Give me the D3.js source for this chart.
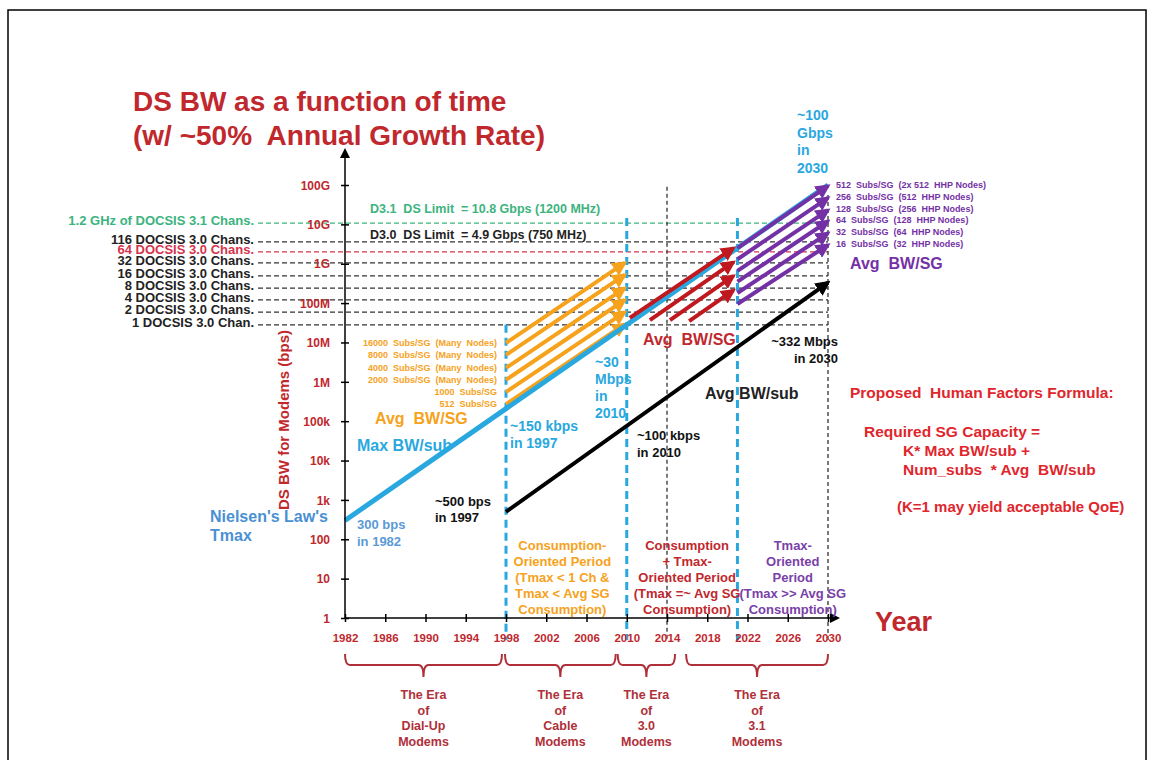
<!DOCTYPE html>
<html>
<head>
<meta charset="utf-8">
<script src="https://cdn.jsdelivr.net/npm/d3@7"></script>
<style>
  body { margin: 0; background: #fff; }
  svg { display: block; }
  text { font-family: "Liberation Sans", Arial, sans-serif; font-weight: bold; }
</style>
</head>
<body>
<div id="chart"></div>
<script>
const width = 1154;
const height = 760;

// axis ticks
const yTickValues = [1, 10, 100, 1e3, 1e4, 1e5, 1e6, 1e7, 1e8, 1e9, 1e10, 1e11];
const yTickLabels = ["1", "10", "100", "1k", "10k", "100k", "1M", "10M", "100M", "1G", "10G", "100G"];
const xTickYears = [1982, 1986, 1990, 1994, 1998, 2002, 2006, 2010, 2014, 2018, 2022, 2026, 2030];

// DOCSIS channel capacity reference lines (bps)
const chanLabels = [
  "1.2 GHz of DOCSIS 3.1 Chans.",
  "116 DOCSIS 3.0 Chans.",
  "64 DOCSIS 3.0 Chans.",
  "32 DOCSIS 3.0 Chans.",
  "16 DOCSIS 3.0 Chans.",
  "8 DOCSIS 3.0 Chans.",
  "4 DOCSIS 3.0 Chans.",
  "2 DOCSIS 3.0 Chans.",
  "1 DOCSIS 3.0 Chan.",
];
const chanValues = [1.08e10, 3.6e9, 2.0e9, 1.05e9, 4.9e8, 2.4e8, 1.2e8, 5.9e7, 2.8e7];

// Max BW/sub (Nielsen's law) and Avg BW/sub
const maxBwYears = [1982, 2030];
const maxBwValues = [300, 1e11];
const avgSubYears = [1998, 2030];
const avgSubValues = [500, 3.32e8];

// Avg BW/SG, cable modem era (orange)
const orangeLabels = [
  "16000  Subs/SG  (Many  Nodes)",
  "8000  Subs/SG  (Many  Nodes)",
  "4000  Subs/SG  (Many  Nodes)",
  "2000  Subs/SG  (Many  Nodes)",
  "1000  Subs/SG",
  "512  Subs/SG",
];
const orangeYears = [1998, 2009.8];
const orangeStart = [9.7e6, 4.8e6, 2.25e6, 1.12e6, 5.5e5, 2.7e5];
const orangeEnd = [1.05e9, 5.2e8, 2.4e8, 1.2e8, 5.9e7, 2.9e7];

// Avg BW/SG, 3.0 era (red)
const redStartYears = [2010.3, 2012.3, 2014.3, 2016.2];
const redStart = [4.2e7, 3.7e7, 3.7e7, 3.5e7];
const redEndYear = 2020.6;
const redEnd = [2.5e9, 1.1e9, 4.9e8, 2.1e8];

// Avg BW/SG, 3.1 era (purple)
const purpleLabels = [
  "512  Subs/SG  (2x 512  HHP Nodes)",
  "256  Subs/SG  (512  HHP Nodes)",
  "128  Subs/SG  (256  HHP Nodes)",
  "64  Subs/SG  (128  HHP Nodes)",
  "32  Subs/SG  (64  HHP Nodes)",
  "16  Subs/SG  (32  HHP Nodes)",
];
const purpleYears = [2021, 2030];
const purpleStart = [2.5e9, 1.3e9, 6.6e8, 3.5e8, 1.8e8, 9.5e7];
const purpleEnd = [9.5e10, 4.7e10, 2.3e10, 1.2e10, 6.0e9, 3.0e9];

// period dividers
const blueDividerYears = [1998, 2010, 2021];
const blueDividerTops = [2.8e7, 1.45e10, 1.45e10];
const blackDividerYears = [2014, 2030];
const blackDividerTops = [9e10, 5.6e10];

// periods and eras
const periodYears = [2003.6, 2016, 2026.5];
const periodTexts = [
  ["Consumption-", "Oriented Period", "(Tmax < 1 Ch &", "Tmax < Avg SG", "Consumption)"],
  ["Consumption", "+ Tmax-", "Oriented Period", "(Tmax =~ Avg SG", "Consumption)"],
  ["Tmax-", "Oriented", "Period", "(Tmax >> Avg SG", "Consumption)"],
];
const eraStart = [1982, 1997.9, 2009.1, 2015.9];
const eraEnd = [1997.6, 2008.9, 2014.8, 2030];
const eraNames = ["Dial-Up", "Cable", "3.0", "3.1"];

const RED = "#c0282d";
const BLUE = "#29a8e0";
const ORANGE = "#f6a21c";
const DARKRED = "#c0181f";
const PURPLE = "#7431a6";
const GREEN = "#3db37e";

const svg = d3
  .select("#chart")
  .append("svg")
  .attr("width", width)
  .attr("height", height);

const x = d3.scaleLinear().domain([1982, 2030]).range([345, 828]);
const y = d3.scaleLog().domain([1, 1e11]).range([618, 185]);

// arrow markers
const defs = svg.append("defs");
function marker(id, color, size) {
  defs
    .append("marker")
    .attr("id", id)
    .attr("viewBox", "0 0 10 10")
    .attr("refX", 8)
    .attr("refY", 5)
    .attr("markerUnits", "userSpaceOnUse")
    .attr("markerWidth", size)
    .attr("markerHeight", size)
    .attr("orient", "auto")
    .append("path")
    .attr("d", "M0,0 L10,5 L0,10 z")
    .attr("fill", color);
}
marker("arOrange", ORANGE, 15);
marker("arRed", DARKRED, 15);
marker("arPurple", PURPLE, 15);
marker("arBlack", "#000", 15);
marker("arAxis", "#000", 10);

// frame
svg
  .append("rect")
  .attr("x", 8)
  .attr("y", 10)
  .attr("width", 1138)
  .attr("height", 770)
  .attr("fill", "none")
  .attr("stroke", "#000")
  .attr("stroke-width", 1.5);

// title
svg
  .append("text")
  .attr("x", 133)
  .attr("y", 111)
  .style("font-size", "28px")
  .style("fill", RED)
  .text("DS BW as a function of time");
svg
  .append("text")
  .attr("x", 133)
  .attr("y", 145)
  .style("font-size", "28px")
  .style("fill", RED)
  .attr("xml:space", "preserve")
  .text("(w/ ~50%  Annual Growth Rate)");

// channel reference lines
chanValues.forEach((v, i) => {
  const color = i === 0 ? GREEN : i === 2 ? "#d6344c" : "#333";
  svg
    .append("line")
    .attr("x1", 258)
    .attr("x2", x(2030))
    .attr("y1", y(v))
    .attr("y2", y(v))
    .attr("stroke", color)
    .attr("stroke-width", 1.3)
    .attr("stroke-dasharray", "5,3");
  svg
    .append("text")
    .attr("x", 254)
    .attr("y", y(v) + 2)
    .attr("text-anchor", "end")
    .style("font-size", "13px")
    .style("fill", i === 0 ? GREEN : i === 2 ? "#d6344c" : "#222")
    .text(chanLabels[i]);
});

svg
  .append("text")
  .attr("x", 370)
  .attr("y", 213)
  .attr("xml:space", "preserve")
  .style("font-size", "12.5px")
  .style("fill", GREEN)
  .text("D3.1  DS Limit  = 10.8 Gbps (1200 MHz)");
svg
  .append("text")
  .attr("x", 370)
  .attr("y", 239)
  .attr("xml:space", "preserve")
  .style("font-size", "12.5px")
  .style("fill", "#222")
  .text("D3.0  DS Limit  = 4.9 Gbps (750 MHz)");

// period dividers
blueDividerYears.forEach((yr, i) => {
  svg
    .append("line")
    .attr("x1", x(yr))
    .attr("x2", x(yr))
    .attr("y1", y(blueDividerTops[i]))
    .attr("y2", 640)
    .attr("stroke", BLUE)
    .attr("stroke-width", 3)
    .attr("stroke-dasharray", "8,5");
});
blackDividerYears.forEach((yr, i) => {
  svg
    .append("line")
    .attr("x1", x(yr))
    .attr("x2", x(yr))
    .attr("y1", y(blackDividerTops[i]))
    .attr("y2", 640)
    .attr("stroke", "#333")
    .attr("stroke-width", 1.3)
    .attr("stroke-dasharray", "4,3");
});

const line = d3
  .line()
  .x((d) => x(d[0]))
  .y((d) => y(d[1]));

// orange arrows
orangeStart.forEach((v, i) => {
  svg
    .append("path")
    .datum([[orangeYears[0], v], [orangeYears[1], orangeEnd[i]]])
    .attr("d", line)
    .attr("stroke", ORANGE)
    .attr("stroke-width", 4)
    .attr("fill", "none")
    .attr("marker-end", "url(#arOrange)");
  svg
    .append("text")
    .attr("x", 497)
    .attr("y", y(v) + 3)
    .attr("text-anchor", "end")
    .attr("xml:space", "preserve")
    .style("font-size", "9px")
    .style("fill", ORANGE)
    .text(orangeLabels[i]);
});

// Max BW/sub
svg
  .append("path")
  .datum(maxBwYears.map((yr, i) => [yr, maxBwValues[i]]))
  .attr("d", line)
  .attr("stroke", BLUE)
  .attr("stroke-width", 5)
  .attr("fill", "none");

// red arrows
redStart.forEach((v, i) => {
  svg
    .append("path")
    .datum([[redStartYears[i], v], [redEndYear, redEnd[i]]])
    .attr("d", line)
    .attr("stroke", DARKRED)
    .attr("stroke-width", 4)
    .attr("fill", "none")
    .attr("marker-end", "url(#arRed)");
});

// purple arrows
purpleStart.forEach((v, i) => {
  svg
    .append("path")
    .datum([[purpleYears[0], v], [purpleYears[1], purpleEnd[i]]])
    .attr("d", line)
    .attr("stroke", PURPLE)
    .attr("stroke-width", 4)
    .attr("fill", "none")
    .attr("marker-end", "url(#arPurple)");
  svg
    .append("text")
    .attr("x", 836)
    .attr("y", y(purpleEnd[i]) + 2)
    .attr("xml:space", "preserve")
    .style("font-size", "9px")
    .style("fill", PURPLE)
    .text(purpleLabels[i]);
});

// Avg BW/sub
svg
  .append("path")
  .datum(avgSubYears.map((yr, i) => [yr, avgSubValues[i]]))
  .attr("d", line)
  .attr("stroke", "#000")
  .attr("stroke-width", 4)
  .attr("fill", "none")
  .attr("marker-end", "url(#arBlack)");

// axes
const yAxis = svg
  .append("g")
  .attr("transform", `translate(${x(1982)},0)`)
  .call(
    d3
      .axisLeft(y)
      .tickValues(yTickValues)
      .tickFormat((d, i) => yTickLabels[i])
      .tickSize(4)
  );
yAxis.select(".domain").remove();
yAxis.selectAll(".tick line").attr("x1", -4).attr("x2", 4).attr("stroke", "#000").attr("stroke-width", 1.5);
yAxis
  .selectAll(".tick text")
  .attr("x", -15)
  .attr("dy", "0.35em")
  .style("font-size", "12px")
  .style("font-family", '"Liberation Sans", Arial, sans-serif')
  .style("font-weight", "bold")
  .style("fill", RED);

const xAxis = svg
  .append("g")
  .attr("transform", `translate(0,${y(1)})`)
  .call(d3.axisBottom(x).tickValues(xTickYears).tickFormat(d3.format("d")).tickSize(4));
xAxis.select(".domain").remove();
xAxis.selectAll(".tick line").attr("y1", -4).attr("y2", 4).attr("stroke", "#000").attr("stroke-width", 1.5);
xAxis
  .selectAll(".tick text")
  .attr("y", 16)
  .style("font-size", "11.5px")
  .style("font-family", '"Liberation Sans", Arial, sans-serif')
  .style("font-weight", "bold")
  .style("fill", RED);

svg
  .append("line")
  .attr("x1", x(1982))
  .attr("x2", x(1982))
  .attr("y1", y(1))
  .attr("y2", 150)
  .attr("stroke", "#000")
  .attr("stroke-width", 1.5)
  .attr("marker-end", "url(#arAxis)");
svg
  .append("line")
  .attr("x1", x(1982))
  .attr("x2", 838)
  .attr("y1", y(1))
  .attr("y2", y(1))
  .attr("stroke", "#000")
  .attr("stroke-width", 1.5)
  .attr("marker-end", "url(#arAxis)");

svg
  .append("text")
  .attr("transform", "translate(289,420) rotate(-90)")
  .attr("text-anchor", "middle")
  .style("font-size", "15px")
  .style("fill", RED)
  .text("DS BW for Modems (bps)");

svg
  .append("text")
  .attr("x", 875)
  .attr("y", 631)
  .style("font-size", "27px")
  .style("fill", RED)
  .text("Year");

// annotations
function block(lines, x0, y0, step, size, color, anchor) {
  lines.forEach((t, i) => {
    svg
      .append("text")
      .attr("x", x0)
      .attr("y", y0 + i * step)
      .attr("text-anchor", anchor || "start")
      .attr("xml:space", "preserve")
      .style("font-size", size + "px")
      .style("fill", color)
      .text(t);
  });
}

block(["~100", "Gbps", "in", "2030"], 797, 120, 17.5, 14, BLUE);
block(["Avg  BW/SG"], 850, 269, 0, 16, PURPLE);
block(["Avg  BW/SG"], 643, 345, 0, 16, RED);
block(["Avg  BW/SG"], 375, 424, 0, 16, ORANGE);
block(["Max BW/sub"], 357, 451, 0, 16, BLUE);
block(["~150 kbps", "in 1997"], 510, 431, 17, 14, BLUE);
block(["~30", "Mbps", "in", "2010"], 595, 367, 17, 14, BLUE);
block(["~100 kbps", "in 2010"], 637, 440, 17, 13, "#111");
block(["Avg BW/sub"], 705, 399, 0, 16, "#222");
block(["~332 Mbps", "in 2030"], 838, 346, 17, 13, "#111", "end");
block(["~500 bps", "in 1997"], 435, 506, 16, 13, "#111");
block(["Nielsen's Law's", "Tmax"], 210, 522, 19, 16, "#4a90d4");
block(["300 bps", "in 1982"], 357, 529, 17, 13, "#5a9ad6");

block(["Proposed  Human Factors Formula:"], 850, 398, 0, 15.5, "#e0262c");
block(["Required SG Capacity ="], 864, 437, 0, 15.5, "#e0262c");
block(["K* Max BW/sub +", "Num_subs  * Avg  BW/sub"], 903, 456, 19, 15.5, "#e0262c");
block(["(K=1 may yield acceptable QoE)"], 897, 512, 0, 15, "#e0262c");

const periodColors = [ORANGE, RED, "#7a3fa8"];
periodTexts.forEach((lines, i) => {
  block(lines, x(periodYears[i]), 550, 16, 13, periodColors[i], "middle");
});

// era braces
const ERA = "#b0303a";
eraStart.forEach((s, i) => {
  const x0 = x(s);
  const x1 = x(eraEnd[i]);
  const xc = (x0 + x1) / 2;
  svg
    .append("path")
    .attr(
      "d",
      `M${x0},654 Q${x0},665 ${x0 + 5},665 L${xc - 5},665 Q${xc},665 ${xc},677 Q${xc},665 ${xc + 5},665 L${x1 - 5},665 Q${x1},665 ${x1},654`
    )
    .attr("fill", "none")
    .attr("stroke", ERA)
    .attr("stroke-width", 2);
  block(["The Era", "of", eraNames[i], "Modems"], xc, 699, 15.5, 12.5, ERA, "middle");
});
</script>
</body>
</html>
